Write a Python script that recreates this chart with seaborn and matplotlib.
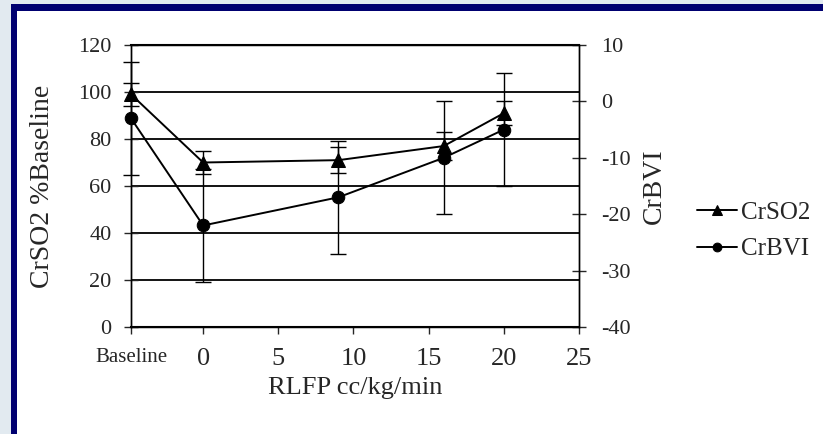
import pandas as pd
import matplotlib.pyplot as plt
import seaborn as sns
from matplotlib.patches import Rectangle

# Values
x_ticks = [-4.8, 0, 5, 10, 15, 20, 25]
x_labels = ["Baseline", "0", "5", "10", "15", "20", "25"]
rlfp = [-4.8, 0, 9, 16, 20]          # baseline sits on the left edge
crso2 = [99, 70, 71, 77, 91]
crso2_err = [5, 5, 5.5, 6, 5]
crbvi = [-3, -22, -17, -10, -5]
crbvi_err = [10, 10, 10, 10, 10]

df = pd.DataFrame({"RLFP": rlfp, "CrSO2": crso2, "CrBVI": crbvi})

sns.set_style("white")
plt.rcParams["font.family"] = ["Liberation Serif", "DejaVu Serif"]
plt.rcParams["axes.unicode_minus"] = False

W, H = 823, 434
fig = plt.figure(figsize=(W / 100, H / 100), dpi=100)
fig.patch.set_facecolor("#e2eaf0")

# navy slide frame + white page
fig.patches.append(Rectangle((11 / W, -0.1), 1.2, (H - 4) / H + 0.1,
                             transform=fig.transFigure, facecolor="#000070",
                             edgecolor="none", zorder=-3))
fig.patches.append(Rectangle((17 / W, -0.1), 1.2, (H - 11) / H + 0.1,
                             transform=fig.transFigure, facecolor="white",
                             edgecolor="none", zorder=-2))

ax = fig.add_axes([131 / W, 107 / H, 448 / W, 282 / H])
ax2 = ax.twinx()

# horizontal rules behind the data
ax.set_ylim(0, 120)
ax.set_yticks(range(0, 121, 20))
ax.grid(axis="y", color="black", linewidth=1.3)
ax.set_axisbelow(True)

# CrSO2 on left axis
sns.lineplot(data=df, x="RLFP", y="CrSO2", marker="^", markersize=10,
             color="black", linewidth=1.4, label="CrSO2", ax=ax, clip_on=False,
             markeredgecolor="black")
eb = ax.errorbar(rlfp, crso2, yerr=crso2_err, fmt="none", ecolor="black",
                 elinewidth=1, capsize=6, capthick=1)
for a in list(eb.lines[1]) + list(eb.lines[2]):
    a.set_clip_on(False)

# CrBVI on right axis
sns.lineplot(data=df, x="RLFP", y="CrBVI", marker="o", markersize=9,
             color="black", linewidth=1.4, label="CrBVI", ax=ax2, clip_on=False,
             markeredgecolor="black")
eb2 = ax2.errorbar(rlfp, crbvi, yerr=crbvi_err, fmt="none", ecolor="black",
                   elinewidth=1, capsize=6, capthick=1)
for a in list(eb2.lines[1]) + list(eb2.lines[2]):
    a.set_clip_on(False)

ax2.set_ylim(-40, 10)
ax2.set_yticks(range(-40, 11, 10))

ax.set_xlim(-4.8, 25)
ax.set_xticks(x_ticks, x_labels)

ax.tick_params(axis="y", direction="inout", length=10, width=1,
               labelsize=16, pad=9, left=True)
ax2.tick_params(axis="y", direction="inout", length=10, width=1,
                labelsize=16, pad=11, right=True)
ax.tick_params(axis="x", direction="out", length=5, width=1,
               labelsize=19, pad=10, bottom=True)
ax.get_xticklabels()[0].set_fontsize(15)

for a in (ax, ax2):
    for s in a.spines.values():
        s.set_visible(True)
        s.set_color("black")
        s.set_linewidth(1)
ax.spines["bottom"].set_linewidth(1.5)
ax.spines["top"].set_linewidth(1.5)

ax.set_xlabel("RLFP cc/kg/min", fontsize=19, labelpad=5)
ax.set_ylabel("CrSO2 %Baseline", fontsize=20, labelpad=17)
ax2.set_ylabel("CrBVI", fontsize=20, labelpad=8)

# combined legend at the right
h1, l1 = ax.get_legend_handles_labels()
h2, l2 = ax2.get_legend_handles_labels()
ax.get_legend().remove()
ax2.get_legend().remove()
fig.legend(h1 + h2, l1 + l2, loc="center left",
           bbox_to_anchor=(684 / W, 1 - 231 / H), frameon=False,
           fontsize=18, handlelength=1.6, handletextpad=0.2,
           labelspacing=0.55, markerscale=0.7, borderpad=0)

fig.savefig("out.png", dpi=100)
